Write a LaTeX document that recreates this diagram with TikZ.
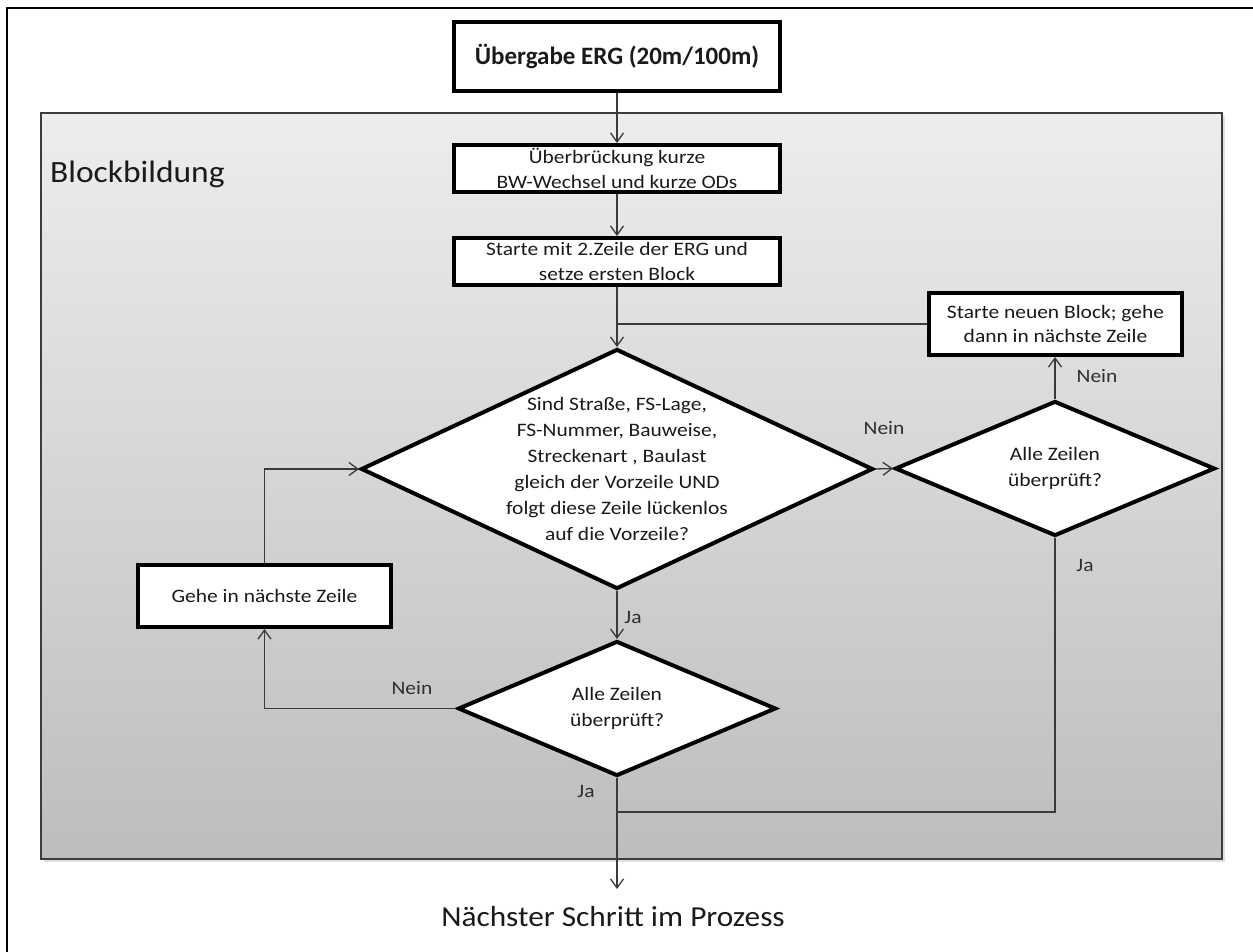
\documentclass[tikz,border=0pt]{standalone}
\usepackage{fontspec}
\setmainfont{Carlito}
\newfontfamily\boxfont{Carlito}[FakeStretch=1.13]
\newfontfamily\headfont{Carlito}[FakeStretch=1.08]
\newfontfamily\nextfont{Carlito}[FakeStretch=1.08]
\usetikzlibrary{shapes.geometric,arrows.meta}
\definecolor{ptop}{HTML}{EDEDED}
\definecolor{pbot}{HTML}{BDBDBD}
\definecolor{panelc}{HTML}{3C3C3C}
\definecolor{linec}{HTML}{3A3A3A}
\definecolor{txt}{HTML}{1A1A1A}
\definecolor{lblc}{HTML}{303030}
\begin{document}
\begin{tikzpicture}[x=1pt,y=-1pt,
  stepbox/.style={draw=black, line width=4pt, fill=white, inner sep=0pt, align=center,
    font=\boxfont\fontsize{19}{24.5}\selectfont, text=txt},
  decision/.style={diamond, draw=black, line width=4pt, fill=white, inner sep=0pt},
  qtext/.style={align=center, font=\boxfont\fontsize{19}{26}\selectfont, text=txt, inner sep=0pt},
  conn/.style={draw=linec, line width=1.3pt, -{Straight Barb[length=9pt,width=13pt]}},
  plainline/.style={draw=linec, line width=1.3pt},
  lbl/.style={font=\boxfont\fontsize{19}{22}\selectfont, text=lblc, inner sep=0pt},
  panel/.style={draw=panelc, line width=1.5pt, top color=ptop, bottom color=pbot, inner sep=0pt}
]
\useasboundingbox (0,0) rectangle (1253,952);
% outer frame (only top and left edges visible)
\draw[line width=1.5pt, black] (7,952) -- (7,8) -- (1253,8);

% panel shadow and panel
\fill[black!12] (44,116) rectangle (1225,862);
\node[panel, minimum width=1181pt, minimum height=746pt] (panel) at (631.5,486) {};
\node[anchor=base west, font=\headfont\fontsize{31}{36}\selectfont, text=txt, inner sep=0pt] (blk) at (50,183) {Blockbildung};

% boxes
\node[stepbox, font=\bfseries\fontsize{25}{30}\selectfont, minimum width=326pt, minimum height=69pt] (erg) at (617,56.5) {Übergabe ERG (20m/100m)};
\node[stepbox, minimum width=326pt, minimum height=47pt] (ueb) at (617,168.5) {Überbrückung kurze\\BW-Wechsel und kurze ODs};
\node[stepbox, minimum width=326pt, minimum height=47pt] (start) at (617,261.5) {Starte mit 2.Zeile der ERG und\\setze ersten Block};
\node[stepbox, minimum width=253pt, minimum height=62pt] (neu) at (1055.5,324) {Starte neuen Block; gehe\\dann in nächste Zeile};
\node[stepbox, minimum width=253pt, minimum height=62pt] (gehe) at (264.5,596) {Gehe in nächste Zeile};

% decisions
\node[decision, minimum width=512pt, minimum height=240pt] (d1) at (617,469) {};
\node[qtext] (d1t) at (d1.center) {Sind Straße, FS-Lage,\\FS-Nummer, Bauweise,\\Streckenart , Baulast\\gleich der Vorzeile UND\\folgt diese Zeile lückenlos\\auf die Vorzeile?};
\node[decision, minimum width=320pt, minimum height=135pt] (d2r) at (1055,468.5) {};
\node[qtext] (d2rt) at (d2r.center) {Alle Zeilen\\überprüft?};
\node[decision, minimum width=318pt, minimum height=135pt] (d3) at (617,708.5) {};
\node[qtext] (d3t) at (d3.center) {Alle Zeilen\\überprüft?};

% final text
\node[anchor=base, font=\nextfont\fontsize{29}{34}\selectfont, text=txt, inner sep=0pt] (next) at (613,926) {Nächster Schritt im Prozess};
\coordinate (nend) at (617,889);
\coordinate (join) at (617,812);

% connectors
\draw[conn] (erg) -- (ueb);
\draw[conn] (ueb) -- (start);
\draw[conn] (start) -- (d1);
\draw[plainline] (neu.west) -- (neu.west -| d1.north);
\draw[conn] (d1.east) -- (d2r.west);
\draw[conn] (d2r.north) -- (d2r.north |- neu.south);
\draw[plainline] (d2r.south) |- (join);
\draw[conn] (d1.south) -- (d3.north);
\draw[conn] (d3.west) -| (gehe.south);
\draw[conn] (gehe.north) |- (d1.west);
\draw[conn] (d3.south) -- (nend);

% labels
\node[lbl] (n1) at (884,428) {Nein};
\node[lbl] (n2) at (1097,376) {Nein};
\node[lbl] (j1) at (1085,565) {Ja};
\node[lbl] (j2) at (633,617) {Ja};
\node[lbl] (n3) at (412,688) {Nein};
\node[lbl] (j3) at (586,791) {Ja};
\end{tikzpicture}
\end{document}
